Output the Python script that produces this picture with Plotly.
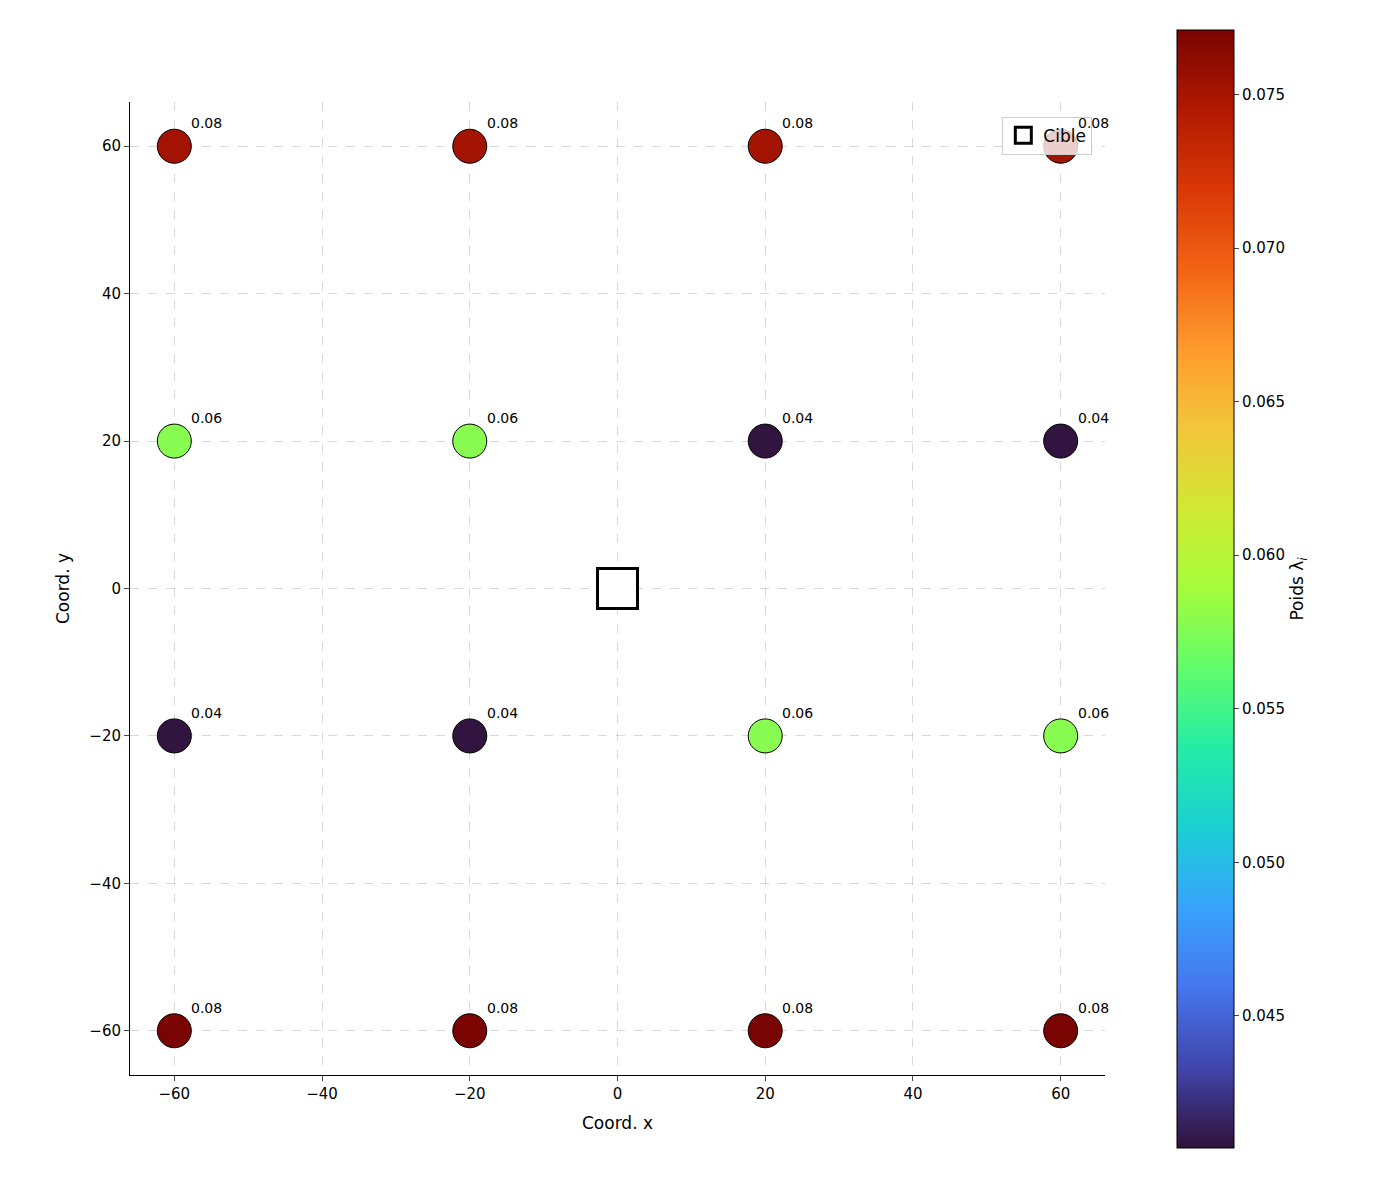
import plotly.graph_objects as go

# points du réseau et poids
xs = [-60, -20, 20, 60, -60, -20, 20, 60, -60, -20, 20, 60, -60, -20, 20, 60]
ys = [60, 60, 60, 60, 20, 20, 20, 20, -20, -20, -20, -20, -60, -60, -60, -60]
poids = [0.0752, 0.0752, 0.0752, 0.0752,
         0.0578, 0.0578, 0.0408, 0.0408,
         0.0408, 0.0408, 0.0578, 0.0578,
         0.0771, 0.0771, 0.0771, 0.0771]
labels = [f"{p:.2f}" for p in poids]
cible = (0, 0)

ticks = [-60, -40, -20, 0, 20, 40, 60]
tick_txt = [str(t).replace("-", "\u2212") for t in ticks]
cb_vals = [0.045, 0.050, 0.055, 0.060, 0.065, 0.070, 0.075]
cb_txt = [f"{v:.3f}" for v in cb_vals]

fig = go.Figure()
fig.add_trace(go.Scatter(
    x=xs, y=ys, mode="markers", showlegend=False,
    marker=dict(size=34, color=poids, colorscale="Turbo",
                cmin=0.0407, cmax=0.0771,
                line=dict(color="black", width=1),
                colorbar=dict(
                    x=1.0636, xanchor="left", y=0.4995, yanchor="middle",
                    thickness=57, lenmode="pixels", len=1138,
                    outlinecolor="black", outlinewidth=1,
                    tickvals=cb_vals, ticktext=cb_txt, ticks="outside",
                    ticklen=5, tickfont=dict(size=15, color="black"),
                    title=dict(text="Poids λ<sub><i>i</i></sub>", side="right",
                               font=dict(size=17, color="black")),
                )),
))
fig.add_trace(go.Scatter(
    x=[cible[0]], y=[cible[1]], mode="markers", name="Cible",
    marker=dict(symbol="square", size=40, color="white",
                line=dict(color="black", width=3)),
))

for x, y, t in zip(xs, ys, labels):
    fig.add_annotation(x=x, y=y, text=t, showarrow=False, xanchor="left",
                       yanchor="middle", xshift=15, yshift=23,
                       font=dict(size=14, color="black"))

axis = dict(range=[-66, 66], tickvals=ticks, ticktext=tick_txt,
            showgrid=True, gridcolor="rgba(0,0,0,0.15)", griddash="dash",
            zeroline=False, showline=True, linecolor="black", linewidth=1,
            ticks="outside", ticklen=5, tickfont=dict(size=15, color="black"),
            mirror=False)

fig.update_layout(
    width=1368, height=1171,
    margin=dict(l=122, r=271, t=94, b=104),
    plot_bgcolor="white", paper_bgcolor="white",
    font=dict(family="DejaVu Sans", color="black"),
    xaxis=dict(axis, title=dict(text="Coord. x", font=dict(size=17))),
    yaxis=dict(axis, title=dict(text="Coord. y", font=dict(size=17))),
    legend=dict(x=0.987, y=0.985, xanchor="right", yanchor="top",
                bgcolor="rgba(255,255,255,0.8)", bordercolor="#cccccc",
                borderwidth=1, font=dict(size=17)),
)

fig.write_html("out.html")
